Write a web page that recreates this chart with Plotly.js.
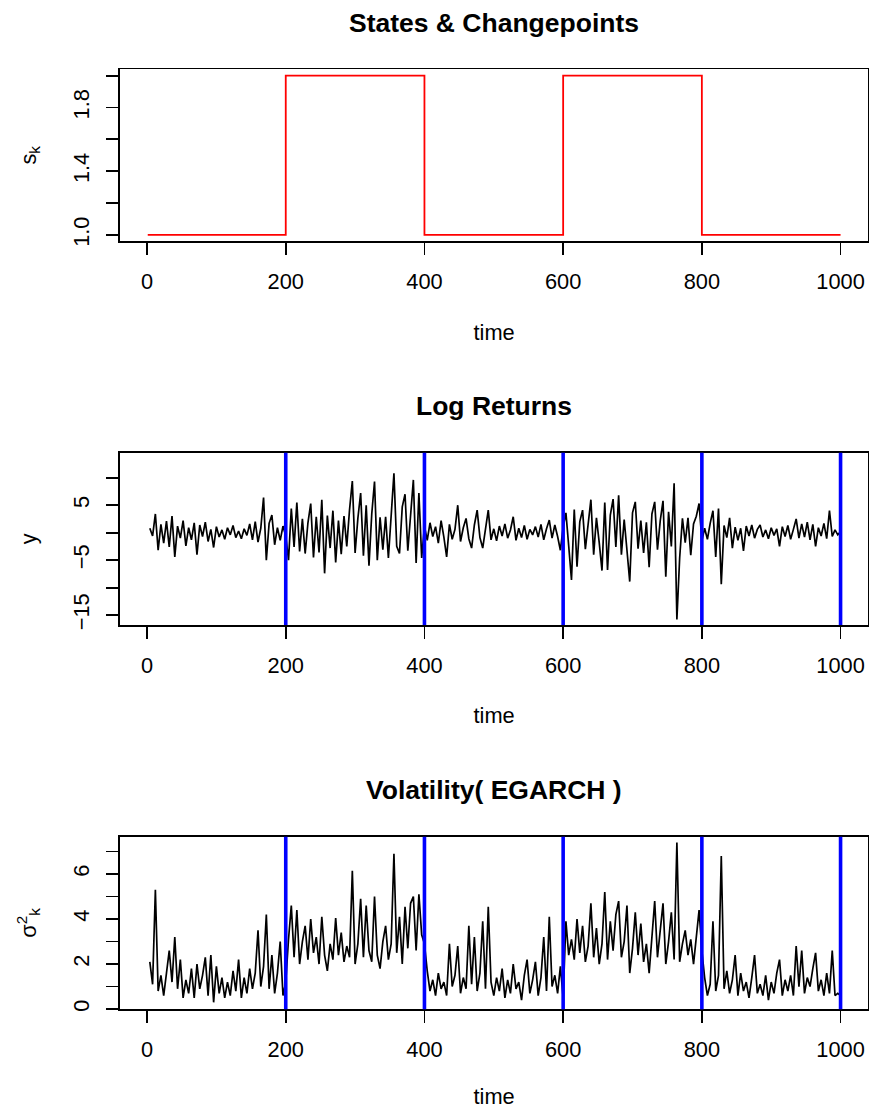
<!DOCTYPE html>
<html>
<head>
<meta charset="utf-8">
<script src="https://cdn.plot.ly/plotly-3.0.1.min.js"></script>
<style>html,body{margin:0;padding:0;background:#fff;}#chart{width:869px;height:1109px;}</style>
</head>
<body>
<div id="chart"></div>
<script>
// ---- data ----
var segmentStarts = [1, 200, 400, 600, 800];
var segmentStates = [1, 2, 1, 2, 1];
var endTime = 1000;
var changepoints = [200, 400, 600, 800, 1000];

var time = [
  4,8,12,16,20,24,28,32,36,40,44,48,52,56,60,64,68,72,76,80,84,88,92,96,100,
  104,108,112,116,120,124,128,132,136,140,144,148,152,156,160,164,168,172,176,180,184,188,192,196,200,
  204,208,212,216,220,224,228,232,236,240,244,248,252,256,260,264,268,272,276,280,284,288,292,296,300,
  304,308,312,316,320,324,328,332,336,340,344,348,352,356,360,364,368,372,376,380,384,388,392,396,400,
  404,408,412,416,420,424,428,432,436,440,444,448,452,456,460,464,468,472,476,480,484,488,492,496,500,
  504,508,512,516,520,524,528,532,536,540,544,548,552,556,560,564,568,572,576,580,584,588,592,596,600,
  604,608,612,616,620,624,628,632,636,640,644,648,652,656,660,664,668,672,676,680,684,688,692,696,700,
  704,708,712,716,720,724,728,732,736,740,744,748,752,756,760,764,768,772,776,780,784,788,792,796,800,
  804,808,812,816,820,824,828,832,836,840,844,848,852,856,860,864,868,872,876,880,884,888,892,896,900,
  904,908,912,916,920,924,928,932,936,940,944,948,952,956,960,964,968,972,976,980,984,988,992,996,1000
];

var logReturns = [
  0.8,-0.6,3.4,-3.2,1.5,-1.9,2.1,-2.6,3.0,-4.4,1.2,-1.0,2.2,-2.4,0.9,-1.3,1.8,-4.0,1.4,-0.7,1.9,-1.6,0.6,-2.7,1.1,
  -0.8,0.5,-1.2,0.9,-0.4,1.3,-0.9,0.3,-1.1,0.7,-0.5,1.6,-1.3,2.0,-1.7,0.8,6.4,-5.0,1.7,3.2,-2.2,0.9,-1.4,1.2,-0.6,
  -5.0,4.4,-2.6,5.5,-3.4,2.5,-3.8,1.8,5.3,-4.5,2.9,-3.6,6.0,-7.4,3.1,-2.8,4.0,-5.4,2.2,-3.9,3.0,-2.5,4.2,9.4,-3.7,
  2.6,7.2,-4.2,5.0,-6.0,3.4,9.3,-5.0,2.8,-3.1,2.9,-4.6,3.5,10.8,-2.5,-3.8,4.7,7.0,-3.3,2.6,9.6,-5.5,7.2,-4.6,1.2,
  -1.4,1.8,-0.7,1.1,-1.9,2.2,-0.8,-4.4,1.5,-1.2,0.6,5.0,-1.6,0.9,2.6,-1.1,-2.8,1.4,4.1,-0.9,-2.8,1.0,4.1,-1.3,0.7,
  -1.5,1.2,-0.6,1.6,-1.0,0.5,2.9,-1.4,0.8,-0.9,1.3,-1.2,0.6,-0.4,1.1,-0.8,1.5,-1.3,0.7,2.3,-1.0,1.4,-0.7,-3.2,1.0,
  3.6,-2.4,-8.6,4.2,-6.2,2.0,4.1,-3.0,1.5,6.0,-4.0,2.7,-1.8,-6.9,5.5,-6.8,3.2,6.1,-2.6,6.8,-4.0,2.4,-3.2,-8.9,3.6,
  5.6,-2.9,2.2,-3.7,1.9,-6.3,3.4,5.6,-3.1,2.2,5.8,-8.0,3.8,-2.5,9.0,-15.8,-4.6,2.6,-1.8,2.7,-4.1,1.6,3.0,5.3,-1.5,
  0.8,-1.2,1.7,4.0,-4.4,4.4,-9.4,1.3,-0.9,2.7,-2.8,1.0,-1.4,0.8,-3.3,1.2,-0.6,1.4,-1.0,0.6,1.4,-0.8,0.5,-1.1,0.9,
  -0.5,0.7,-2.5,1.1,-0.7,1.3,-1.2,0.6,2.5,-1.0,1.6,-0.8,1.9,-1.3,1.5,-2.5,0.9,-0.6,1.7,-1.1,4.0,-0.7,0.5,-0.4,0.2
];

var volatility = [
  2.1,1.1,5.3,0.8,1.5,0.6,1.6,2.6,1.2,3.2,0.9,2.2,0.5,1.3,0.7,1.8,0.5,2.0,0.9,1.5,2.3,0.6,2.4,0.3,1.9,
  0.7,1.4,0.5,1.2,0.6,1.7,0.8,2.2,0.5,1.4,0.7,1.8,0.9,1.6,3.5,1.0,1.9,4.2,0.9,2.4,0.7,1.6,3.0,0.6,1.2,
  3.1,4.6,2.3,4.4,2.0,3.0,3.7,2.2,4.0,2.5,3.2,2.0,4.1,2.4,1.7,2.9,2.2,4.05,2.4,3.4,2.1,2.8,2.3,6.15,2.0,
  2.9,4.9,2.3,4.6,2.6,2.1,5.0,2.4,1.8,3.0,3.7,2.2,2.9,6.9,2.5,4.1,2.0,4.55,2.7,4.7,5.0,2.6,5.1,3.3,2.9,
  1.7,0.8,1.3,0.6,1.6,0.9,1.2,0.6,2.9,1.0,1.5,2.8,0.7,1.4,0.9,3.7,1.1,3.2,0.8,1.6,3.9,0.9,4.55,1.2,0.6,
  1.4,0.8,1.8,0.5,1.3,0.7,2.0,0.9,1.2,0.4,1.5,2.2,0.7,1.3,2.1,0.6,1.4,3.2,0.8,4.1,1.0,1.5,0.7,1.9,0.5,
  3.9,2.4,3.1,2.2,4.0,2.5,3.7,2.1,2.8,4.7,2.3,3.6,2.0,2.9,5.2,2.2,3.9,2.6,4.2,4.8,2.3,3.0,4.6,1.6,2.7,
  4.3,2.4,3.8,2.1,2.9,1.6,3.1,4.8,2.3,3.4,4.7,2.0,3.0,4.3,2.2,7.4,2.1,2.9,3.5,2.4,3.1,2.0,3.2,4.4,2.6,
  1.4,0.6,1.1,3.9,0.8,1.5,6.8,0.9,1.7,0.7,1.3,2.4,0.6,1.6,0.8,1.2,0.5,1.4,2.4,0.7,1.1,0.6,1.5,0.4,1.2,
  0.7,1.6,2.2,0.6,1.3,0.8,1.5,0.6,2.8,1.0,2.6,0.7,1.4,1.0,1.8,2.5,0.8,1.3,0.6,1.6,0.7,2.6,0.6,0.7,0.6
];

var xTickVals = [0, 200, 400, 600, 800, 1000];
// labelled ticks (start, step, format) and unlabelled minor tick step per panel
var y1Ticks = {tick0: 1.0, dtick: 0.4, minor: 0.2, format: '.1f'};
var y2Ticks = {tick0: 5, dtick: 10, minor: 5, format: ''};
var y3Ticks = {tick0: 0, dtick: 2, minor: 1, format: ''};

var panelTitles = ['States & Changepoints', 'Log Returns', 'Volatility( EGARCH )'];

// ---- build ----
var stateX = segmentStarts.concat([endTime]);
var stateY = segmentStates.concat([segmentStates[segmentStates.length - 1]]);

var FONT = 'Liberation Sans, Arial, Helvetica, sans-serif';
var W = 869, H = 1109;

var traces = [
  {x: stateX, y: stateY, type: 'scatter', mode: 'lines', line: {color: '#ff0000', width: 1.8, shape: 'hv'},
   xaxis: 'x', yaxis: 'y', showlegend: false},
  {x: time, y: logReturns, type: 'scatter', mode: 'lines', line: {color: '#000000', width: 1.7},
   xaxis: 'x2', yaxis: 'y2', showlegend: false},
  {x: time, y: volatility, type: 'scatter', mode: 'lines', line: {color: '#000000', width: 1.7},
   xaxis: 'x3', yaxis: 'y3', showlegend: false}
];

var shapes = [];
['2', '3'].forEach(function (k) {
  changepoints.forEach(function (c) {
    shapes.push({type: 'line', xref: 'x' + k, yref: 'y' + k + ' domain', x0: c, x1: c, y0: 0, y1: 1,
      line: {color: '#0000ff', width: 3.6}, layer: 'above'});
  });
});

var xDom = [120 / W, 868.3 / W];
function yDom(top, bottom) { return [1 - bottom / H, 1 - top / H]; }

function xAxis(anchor) {
  return {
    domain: xDom, anchor: anchor, range: [-39, 1040],
    tickmode: 'array', tickvals: xTickVals, ticktext: xTickVals.map(String),
    ticks: 'outside', ticklen: 12, tickwidth: 1.8, tickcolor: '#000',
    showline: true, mirror: true, linecolor: '#000', linewidth: 1.8,
    showgrid: false, zeroline: false,
    tickfont: {family: FONT, size: 21.8, color: '#000'},
    ticklabelstandoff: 8,
    title: {text: 'time', font: {family: FONT, size: 21.8, color: '#000'}, standoff: 31}
  };
}
function yAxis(anchor, dom, range, tk, title) {
  return {
    domain: dom, anchor: anchor, range: range,
    tickmode: 'linear', tick0: tk.tick0, dtick: tk.dtick, tickformat: tk.format, tickangle: -90,
    ticks: 'outside', ticklen: 12, tickwidth: 1.8, tickcolor: '#000',
    minor: {tickmode: 'linear', tick0: tk.tick0, dtick: tk.minor, ticks: 'outside', ticklen: 12,
      tickwidth: 1.8, tickcolor: '#000', showgrid: false},
    showline: true, mirror: true, linecolor: '#000', linewidth: 1.8,
    showgrid: false, zeroline: false,
    tickfont: {family: FONT, size: 21.8, color: '#000'},
    ticklabelstandoff: 8,
    title: {text: title, font: {family: FONT, size: 21.8, color: '#000'}, standoff: 27}
  };
}

var layout = {
  width: W, height: H, autosize: false,
  margin: {l: 0, r: 0, t: 0, b: 0, pad: 0},
  paper_bgcolor: '#fff', plot_bgcolor: '#fff',
  showlegend: false,
  title: {text: '<b>' + panelTitles[0] + '</b>', font: {family: FONT, size: 26.5, color: '#000'},
    x: 494 / W, xanchor: 'center', xref: 'paper', y: 1 - 22.7 / H, yanchor: 'middle', yref: 'container'},
  xaxis: xAxis('y'),
  yaxis: yAxis('x', yDom(69.3, 241.3), [0.96, 2.04], y1Ticks, 's<sub>k</sub>'),
  xaxis2: xAxis('y2'),
  yaxis2: yAxis('x2', yDom(452.7, 625), [-16.8, 14.55], y2Ticks, 'y'),
  xaxis3: xAxis('y3'),
  yaxis3: yAxis('x3', yDom(836.7, 1009.3), [-0.01, 7.66], y3Ticks, '\u03c3<sup>2</sup><sub>k</sub>'),
  shapes: shapes,
  annotations: [
    {text: '<b>' + panelTitles[1] + '</b>', xref: 'paper', yref: 'paper', x: 494 / W, y: 1 - 406 / H,
     xanchor: 'center', yanchor: 'middle', showarrow: false, font: {family: FONT, size: 26.5, color: '#000'}},
    {text: '<b>' + panelTitles[2] + '</b>', xref: 'paper', yref: 'paper', x: 494 / W, y: 1 - 790 / H,
     xanchor: 'center', yanchor: 'middle', showarrow: false, font: {family: FONT, size: 26.5, color: '#000'}}
  ]
};

Plotly.newPlot('chart', traces, layout, {displayModeBar: false, staticPlot: true});
</script>
</body>
</html>
